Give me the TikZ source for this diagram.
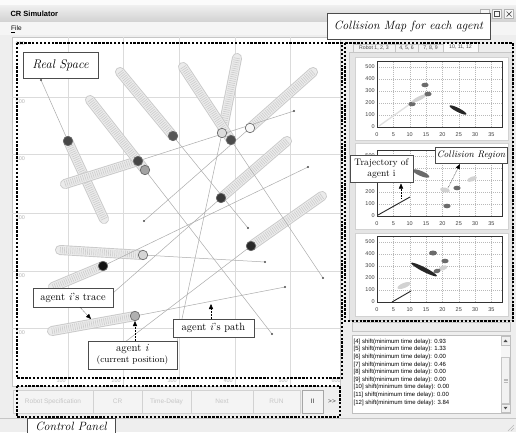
\documentclass[tikz,border=0pt]{standalone}
\usepackage{fontspec}
\setsansfont{Liberation Sans}
\usetikzlibrary{arrows.meta}
\newcommand\crell[6]{\fill[#1, rotate around={#6:(#2,#3)}] (#2,#3) ellipse [x radius=#4pt, y radius=#5pt];}
\newcommand\crchart[3]{%
\begin{scope}[shift={(377,#1)}, x=3.27pt, y=0.12pt]
  \foreach \u in {5,10,...,35} \draw[cgrid] (\u,0) -- (\u,550);
  \foreach \v in {100,200,...,500} \draw[cgrid] (0,\v) -- (38.3,\v);
  \draw[cframe] (0,0) rectangle (38.3,550);
  \foreach \u in {0,5,...,35} \node[cax] (#2x\u) at (\u,-62) {\u};
  \foreach \v in {#3} \node[cax, anchor=east] (#2y\v) at (-0.5,\v) {\v};
\end{scope}}
\begin{document}
\begin{tikzpicture}[x=1pt,y=-1pt,
  dashbox/.style={draw=black, line width=1.6pt, dash pattern=on 2.4pt off 1.5pt},
  lbl/.style={draw=black!70, fill=white, line width=0.8pt, inner sep=0pt, align=center},
  ptr/.style={densely dotted, line width=0.5pt, -{Triangle[length=5pt,width=4.2pt]}},
  agent/.style={circle, minimum size=9.5pt, inner sep=0pt, draw=black!60, line width=0.6pt},
  pathln/.style={draw=gray!65, line width=0.5pt},
  goaldot/.style={circle, fill=black!70, minimum size=2.2pt, inner sep=0pt},
  tubeo/.style={line width=10pt, line cap=round, draw=gray!42},
  tubei/.style={line width=8.2pt, line cap=round, draw=gray!16},
  tuber/.style={line width=6.5pt, draw=gray!40, dash pattern=on 0.6pt off 1.5pt},
  rsgrid/.style={draw=gray!28, line width=0.8pt},
  axl/.style={font=\sffamily\fontsize{5.5}{6}\selectfont, text=gray!55, inner sep=0.5pt},
  btn/.style={draw=gray!35, fill=gray!9, text=gray!45, font=\sffamily\fontsize{6.5}{7}\selectfont, minimum height=23pt, inner sep=0pt},
  logt/.style={font=\sffamily\fontsize{6}{6}\selectfont, anchor=west, inner sep=0pt},
  cax/.style={font=\sffamily\fontsize{5.5}{6}\selectfont, text=black!75, inner sep=0.5pt},
  cgrid/.style={draw=gray!55, line width=0.4pt, dash pattern=on 0.8pt off 1.2pt},
  cframe/.style={draw=black!80, line width=0.8pt},
  tab/.style={draw=gray!45, fill=gray!10, font=\sffamily\fontsize{5.2}{6}\selectfont, text=black!70, minimum height=8pt, inner sep=0pt},
  wbtn/.style={draw=gray!60, fill=gray!6, minimum size=9pt, inner sep=0pt},
]
\useasboundingbox (0,0) rectangle (516,432);
\clip (0,0) rectangle (516,432);
% window
\fill[gray!13] (0,0) rectangle (516,432);
\fill[gray!3] (0,0) rectangle (516,5);
\shade[top color=gray!12, bottom color=gray!36] (0,5) rectangle (516,22);
\node[anchor=west, font=\sffamily\bfseries\fontsize{7.5}{8}\selectfont] (title) at (7,14) {CR Simulator};
\fill[gray!8] (0,22) rectangle (516,35);
\node[anchor=west, font=\sffamily\fontsize{6.5}{7}\selectfont, inner sep=0pt] (menu) at (11,29) {\underline{F}ile};
\node[wbtn] (wmin) at (485,14) {};
\node[wbtn] (wmax) at (497,14) {};
\node[wbtn] (wcls) at (509,14) {};
\draw[black!70, line width=0.6pt] ([shift={(-2.5,-2.5)}]wmax.center) rectangle ([shift={(2.5,2.5)}]wmax.center);
\draw[black!70, line width=0.7pt] ([shift={(-2.5,-2.5)}]wcls.center) -- ([shift={(2.5,2.5)}]wcls.center);
\draw[black!70, line width=0.7pt] ([shift={(-2.5,2.5)}]wcls.center) -- ([shift={(2.5,-2.5)}]wcls.center);
\draw[gray!45] (0,418) -- (516,418);
\foreach \k in {0,3,6} \draw[gray!55] (514-\k,431) -- (514,431-\k);

% real space
\fill[white] (12,37) rectangle (340,386);
\draw[gray!45] (12,37) rectangle (340,386);
\foreach \gx in {68,123,179,235,290} \draw[rsgrid] (\gx,37) -- (\gx,386);
\foreach \gy in {97,154,213,271,328} \draw[rsgrid] (12,\gy) -- (340,\gy);
\foreach \gy/\t in {41/600,99/500,156/400,215/300,273/200,330/100} \node[axl, anchor=north west] (yl\t) at (15,\gy) {\t};
\foreach \gx/\t in {68/100,123/200,179/300,235/400,290/500,343/600} \node[axl, anchor=east] (xl\t) at (\gx-1.5,381) {\t};

\foreach \n/\sx/\sy/\cx/\cy/\gx/\gy in {
 1/104/219/68/141/41/80,
 2/65/184/138/161/294/111,
 3/90/100/145/170/272/334,
 4/120/72/173/136/248/228,
 5/237/58/222/133/177/342,
 6/183/67/231/140/323/278,
 7/313/72/250/128/144/221,
 8/287/141/221/198/113/293,
 9/322/196/251/246/125/342,
 10/60/250/143/255/265/262,
 11/53/287/103/266/308/167,
 12/52/331/135/316/285/287}{
 \coordinate (s\n) at (\sx,\sy);
 \coordinate (p\n) at (\cx,\cy);
 \coordinate (g\n) at (\gx,\gy);
}
\foreach \n in {1,...,12}{
 \draw[tubeo] (s\n) -- (p\n);
 \draw[tubei] (s\n) -- (p\n);
 \draw[tuber] (s\n) -- (p\n);
}
\foreach \n in {1,...,12}{
 \draw[pathln] (p\n) -- (g\n);
 \node[goaldot] (gd\n) at (g\n) {};
}
\foreach \n/\cc in {1/black!72,2/black!72,3/gray!72,4/black!66,5/gray!28,6/black!70,7/gray!6,8/black!78,9/black!84,10/gray!33,11/black!92,12/gray!62}{
 \node[agent, fill=\cc] (c\n) at (p\n) {};
}

% control panel
\node[btn, minimum width=80pt] (b1) at (53,401.5) {Robot Specification};
\node[btn, minimum width=49pt] (b2) at (117.5,401.5) {CR};
\node[btn, minimum width=49pt] (b3) at (166.5,401.5) {Time-Delay};
\node[btn, minimum width=62pt] (b4) at (222,401.5) {Next};
\node[btn, minimum width=47pt] (b5) at (276.5,401.5) {RUN};
\node[btn, minimum width=21pt, draw=gray!70, line width=1pt, text=black!80] (b6) at (312.5,401.5) {II};
\node[font=\sffamily\fontsize{6.5}{7}\selectfont, text=black!75, inner sep=0pt] (b7) at (332,402) {{>}{>}};

% right panel
\fill[gray!20] (349,52) rectangle (512,320);
\draw[gray!45] (349,52) rectangle (512,320);
\node[tab, minimum width=42pt] (t1) at (374,48) {Robot 1, 2, 3};
\node[tab, minimum width=23pt] (t2) at (406.5,48) {4, 5, 6};
\node[tab, minimum width=25pt] (t3) at (430.5,48) {7, 8, 9};
\node[tab, minimum width=35pt, fill=gray!4, minimum height=10pt] (t4) at (460.5,47) {10, 11, 12};
\foreach \ya/\yb in {57/140,143/229,233/316} {\fill[white] (355,\ya) rectangle (508,\yb); \draw[gray!35] (355,\ya) rectangle (508,\yb);}
\crchart{127}{ca}{0,100,200,300,400,500}
\crchart{216}{cb}{0,100,200,500}
\crchart{302}{cc}{0,100,200,300,400,500}
% chart 1 content
\draw[gray!25, line width=1.3pt] (379,126) -- (410,104);
\crell{black!58}{412}{104}{3.6}{2.3}{0}
\crell{gray!35}{419}{98.5}{8}{2}{27}
\crell{black!58}{428}{94}{3.6}{2.3}{0}
\crell{black!58}{425}{85}{3.6}{2.3}{0}
\crell{black!85}{458}{110}{9.5}{2}{-27}
% chart 2 content
\draw[black!85, line width=0.9pt] (378,215) -- (410,197);
\crell{black!58}{421}{173.5}{9}{2.5}{-23}
\crell{gray!35}{445}{190}{5}{2.4}{-12}
\crell{black!58}{457}{188}{3.6}{2.3}{0}
\crell{gray!35}{472}{179}{5.2}{2.3}{22}
\crell{black!58}{447}{206}{3.6}{2.3}{0}
% chart 3 content
\draw[black!85, line width=0.9pt] (392,302) -- (411,291);
\crell{gray!35}{404}{285.5}{7}{2.5}{22}
\crell{black!85}{424}{269.5}{14.5}{2.2}{-27}
\crell{black!58}{433}{253}{4}{2.5}{0}
\crell{gray!35}{443}{268}{4.6}{2.3}{20}
\crell{black!58}{437}{271}{3.6}{2.3}{15}
\crell{black!58}{445}{261}{3.6}{2.3}{0}

% log panel
\draw[gray!45, fill=gray!15] (352,322) rectangle (510,331);
\fill[white] (352,335) rectangle (510,413);
\draw[gray!50] (352,335) rectangle (510,413);
\fill[gray!7] (501,336) rectangle (510,412);
\node[draw=gray!50, fill=gray!12, minimum width=8.5pt, minimum height=8.5pt, inner sep=0pt] (sbup) at (505.5,340.5) {};
\node[draw=gray!50, fill=gray!12, minimum width=8.5pt, minimum height=8.5pt, inner sep=0pt] (sbdn) at (505.5,408) {};
\fill[black!70] (503.5,342) -- (507.5,342) -- (505.5,339.5) -- cycle;
\fill[black!70] (503.5,406.8) -- (507.5,406.8) -- (505.5,409.3) -- cycle;
\draw[gray!45, fill=gray!10] (501.5,357) rectangle (509.5,403);
\foreach \k in {0,1.6,3.2} \draw[gray!55, line width=0.4pt] (503.5,379+\k) -- (507.5,379+\k);
\foreach \n/\t [count=\j from 0] in {4/0.93,5/1.33,6/0.00,7/0.46,8/0.00,9/0.00,10/0.00,11/0.00,12/3.84}
  \node[logt] (log\n) at (353.5,341.5+7.65*\j) {[\n] shift(minimum time delay): \t};

% dashed region boxes
\draw[dashbox] (17,43) rectangle (342,378);
\draw[dashbox] (345,43) rectangle (513,321);
\draw[dashbox] (17,386) rectangle (340,417);

% labels
\node[lbl, minimum width=75pt, minimum height=26pt, font=\itshape\fontsize{12.5}{14}\selectfont] (realspace) at (60.5,65) {Real Space};
\node[lbl, minimum width=163pt, minimum height=26pt, font=\itshape\fontsize{12}{14}\selectfont] (cmap) at (408.5,26) {Collision Map for each agent};
\node[lbl, minimum width=88pt, minimum height=17pt, font=\itshape\fontsize{12}{14}\selectfont] (cpanel) at (71,426.5) {Control Panel};
\node[lbl, minimum width=80pt, minimum height=19pt, font=\fontsize{10.5}{12}\selectfont] (trace) at (73,297.5) {agent \textit{i}'s trace};
\node[lbl, minimum width=89pt, minimum height=28pt, font=\fontsize{11}{11}\selectfont] (cur) at (132.5,355) {agent \textit{i}\\{\fontsize{9}{10}\selectfont (current position)}};
\node[lbl, minimum width=81pt, minimum height=18pt, font=\fontsize{10.5}{12}\selectfont] (pathlbl) at (213.5,328) {agent \textit{i}'s path};
\node[lbl, minimum width=63pt, minimum height=27pt, font=\fontsize{9.5}{10.5}\selectfont] (traj) at (381.5,168.5) {Trajectory of\\agent i};
\node[lbl, minimum width=72pt, minimum height=16pt, font=\itshape\fontsize{9.5}{10}\selectfont] (creg) at (471,155) {Collision Region};

% pointers
\coordinate (tr1) at (80,307.5);
\coordinate (tr2) at (91,319);
\draw[ptr] (tr1) -- (tr2);
\draw[ptr] (cur.north -| c12) -- (c12.south);
\coordinate (pa) at (211,304);
\draw[ptr] (pathlbl.north -| pa) -- (pa);
\coordinate (tj1) at (401,198);
\coordinate (tj2) at (401,183.5);
\draw[ptr] (tj1) -- (tj2);
\coordinate (cr1) at (448,188);
\coordinate (cr2) at (460,164);
\draw[ptr] (cr1) -- (cr2);
\end{tikzpicture}
\end{document}
